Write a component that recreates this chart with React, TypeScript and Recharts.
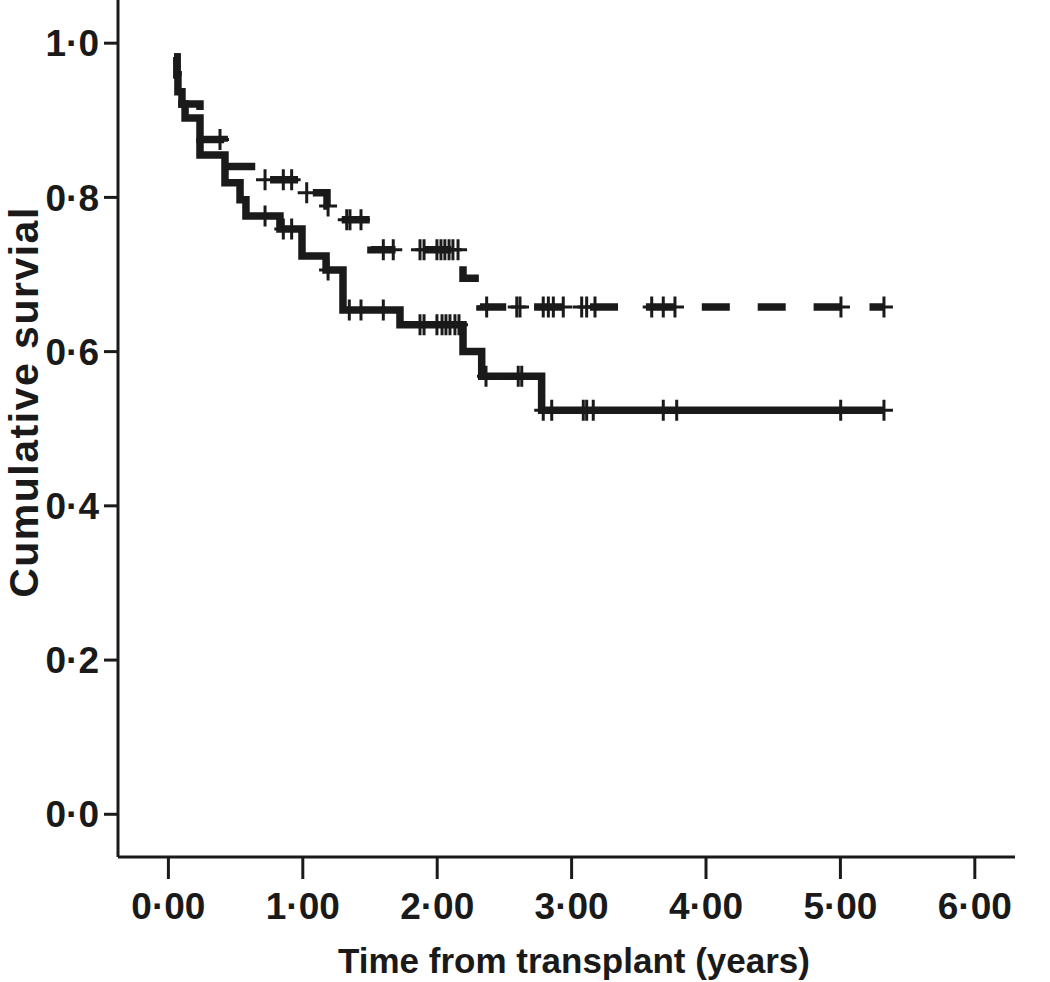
import { ComposedChart, Line, Scatter, XAxis, YAxis } from 'recharts'

// Kaplan-Meier steps (time in years, survival after the drop)
const solidTimes = [0.042, 0.064, 0.071, 0.101, 0.124, 0.235, 0.421, 0.533, 0.577, 0.83, 0.994, 1.173, 1.299, 1.723, 2.192, 2.331, 2.777, 5.324]
const solidSurv = [0.982, 0.959, 0.937, 0.921, 0.903, 0.855, 0.819, 0.797, 0.776, 0.759, 0.724, 0.706, 0.654, 0.635, 0.6, 0.568, 0.524, 0.524]

const dashedTimes = [0.042, 0.064, 0.071, 0.101, 0.235, 0.415, 0.667, 0.994, 1.18, 1.24, 1.507, 2.192, 2.318, 5.324]
const dashedSurv = [0.982, 0.959, 0.937, 0.921, 0.875, 0.84, 0.823, 0.806, 0.789, 0.771, 0.732, 0.695, 0.658, 0.658]

// censored cases (the + marks)
const solidCensor = [0.719, 0.855, 0.917, 1.188, 1.346, 1.433, 1.599, 1.872, 1.902, 1.998, 2.036, 2.065, 2.095, 2.132, 2.162, 2.363, 2.603, 2.629, 2.789, 2.852, 3.087, 3.112, 3.161, 3.682, 3.782, 5.002, 5.324]
const dashedCensor = [0.384, 0.719, 0.855, 0.917, 1.029, 1.188, 1.327, 1.351, 1.433, 1.599, 1.673, 1.872, 1.902, 1.998, 2.028, 2.057, 2.088, 2.117, 2.155, 2.368, 2.592, 2.616, 2.789, 2.827, 2.864, 2.938, 3.075, 3.112, 3.174, 3.596, 3.682, 3.769, 5.004, 5.324]

const xTicks = [0, 1, 2, 3, 4, 5, 6]
const yTicks = [0, 0.2, 0.4, 0.6, 0.8, 1.0]

const INK = '#1a1a1a'
const FONT = '"Liberation Sans", Arial, Helvetica, sans-serif'

const steps = (times: number[], surv: number[]) => times.map((t, i) => ({ t, s: surv[i] }))

// survival level at a censoring time = last step at or before it
const censorPoints = (cens: number[], times: number[], surv: number[]) =>
  cens.map((t) => {
    let s = surv[0]
    times.forEach((tt, i) => {
      if (tt <= t + 1e-9) s = surv[i]
    })
    return { t, s }
  })

const solidData = steps(solidTimes, solidSurv)
const dashedData = steps(dashedTimes, dashedSurv)
const solidMarks = censorPoints(solidCensor, solidTimes, solidSurv)
const dashedMarks = censorPoints(dashedCensor, dashedTimes, dashedSurv)

function CensorMark(props: any) {
  const { cx, cy } = props
  if (cx == null || cy == null) return null
  return (
    <path
      d={`M${cx - 9},${cy}H${cx + 9}M${cx},${cy - 10.5}V${cy + 10.5}`}
      stroke={INK}
      strokeWidth={3}
      fill="none"
    />
  )
}

const dotted = (v: number, d: number) => v.toFixed(d).replace('.', '\u00B7')

const tickStyle = { fill: INK, fontSize: 37, fontWeight: 700, fontFamily: FONT }

export default function App() {
  return (
    <div style={{ position: 'absolute', left: 0, top: 0, width: 1050, height: 982, background: '#fff' }}>
      <ComposedChart width={1050} height={982} margin={{ top: 0, right: 35, bottom: 0, left: 0 }}>
        <XAxis
          type="number"
          dataKey="t"
          domain={[-0.375, 6.299]}
          allowDataOverflow
          ticks={xTicks}
          tickFormatter={(v) => dotted(v, 2)}
          height={125}
          tickSize={22}
          tickMargin={14}
          axisLine={{ stroke: INK, strokeWidth: 3 }}
          tickLine={{ stroke: INK, strokeWidth: 3 }}
          tick={tickStyle}
        />
        <YAxis
          type="number"
          dataKey="s"
          domain={[-0.0554, 1.056]}
          allowDataOverflow
          ticks={yTicks}
          tickFormatter={(v) => dotted(v, 1)}
          width={118}
          tickSize={14}
          tickMargin={5}
          axisLine={{ stroke: INK, strokeWidth: 3 }}
          tickLine={{ stroke: INK, strokeWidth: 3 }}
          tick={tickStyle}
        />
        <Line
          data={dashedData}
          dataKey="s"
          type="stepAfter"
          stroke={INK}
          strokeWidth={7.5}
          strokeDasharray="28 27.9"
          strokeDashoffset={5}
          dot={false}
          activeDot={false}
          isAnimationActive={false}
        />
        <Line
          data={solidData}
          dataKey="s"
          type="stepAfter"
          stroke={INK}
          strokeWidth={7.5}
          dot={false}
          activeDot={false}
          isAnimationActive={false}
        />
        <Scatter data={dashedMarks} dataKey="s" shape={CensorMark} isAnimationActive={false} />
        <Scatter data={solidMarks} dataKey="s" shape={CensorMark} isAnimationActive={false} />
      </ComposedChart>
      <svg width={1050} height={982} style={{ position: 'absolute', left: 0, top: 0, pointerEvents: 'none' }}>
        <text x={574} y={973} textAnchor="middle" fill={INK} fontSize={35} fontWeight={700} fontFamily={FONT}>
          Time from transplant (years)
        </text>
        <text
          transform="translate(38,402) rotate(-90)"
          textAnchor="middle"
          fill={INK}
          fontSize={41}
          fontWeight={700}
          fontFamily={FONT}
          letterSpacing={1.5}
        >
          Cumulative survial
        </text>
      </svg>
    </div>
  )
}
